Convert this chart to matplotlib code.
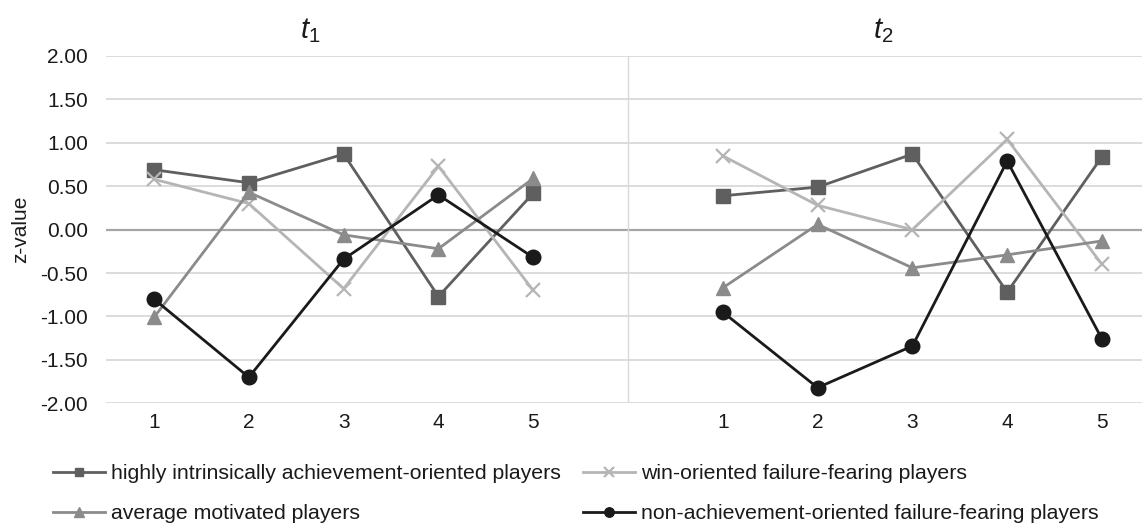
import matplotlib
matplotlib.use("Agg")
import matplotlib.pyplot as plt
import numpy as np

plt.rcParams['font.family'] = ['Liberation Sans', 'DejaVu Sans']
plt.rcParams['mathtext.fontset'] = 'custom'
plt.rcParams['mathtext.it'] = 'Liberation Sans:italic'
plt.rcParams['mathtext.rm'] = 'Liberation Sans'

# Data
periods = ["t_1", "t_2"]
categories = ["1", "2", "3", "4", "5"]
series_names = [
    "highly intrinsically achievement-oriented players",
    "win-oriented failure-fearing players",
    "average motivated players",
    "non-achievement-oriented failure-fearing players",
]
high_t1 = [0.69, 0.54, 0.87, -0.77, 0.42]
high_t2 = [0.39, 0.49, 0.87, -0.72, 0.84]
win_t1 = [0.58, 0.30, -0.68, 0.73, -0.70]
win_t2 = [0.85, 0.28, 0.00, 1.04, -0.40]
avg_t1 = [-1.01, 0.43, -0.06, -0.22, 0.59]
avg_t2 = [-0.67, 0.06, -0.44, -0.29, -0.13]
non_t1 = [-0.80, -1.70, -0.34, 0.40, -0.32]
non_t2 = [-0.95, -1.82, -1.34, 0.79, -1.26]
yticks = [-2.0, -1.5, -1.0, -0.5, 0.0, 0.5, 1.0, 1.5, 2.0]

W, H = 1144, 527
FS = 15
fig = plt.figure(figsize=(W / 100, H / 100), dpi=100)
ax = fig.add_axes([106 / W, 1 - 403.3 / H, (1142 - 106) / W, (403.3 - 56) / H])

x1 = np.arange(5)
x2 = np.arange(5) + 6

styles = [
    dict(color="#5f5f5f", marker="s", ms=9.5),
    dict(color="#b5b5b5", marker="x", ms=10, mew=1.6),
    dict(color="#8b8b8b", marker="^", ms=10.5),
    dict(color="#1a1a1a", marker="o", ms=10.5),
]
data = [(high_t1, high_t2), (win_t1, win_t2), (avg_t1, avg_t2), (non_t1, non_t2)]

# grid
for yv in yticks:
    if yv == 0:
        ax.axhline(yv, color="#a6a6a6", lw=1.6, zorder=1)
    else:
        ax.axhline(yv, color="#d9d9d9", lw=1.3, zorder=1)
ax.plot([5, 5], [-2, 2], color="#d9d9d9", lw=1.0, zorder=1)

handles = []
for (a, b), st, name in zip(data, styles, series_names):
    h, = ax.plot(x1, a, lw=2.0, label=name, zorder=3, **st)
    ax.plot(x2, b, lw=2.0, zorder=3, **st)
    handles.append(h)

ax.set_xlim(-0.507, (1142 - 154) / 94.8)
ax.set_ylim(-2, 2)
ax.set_yticks(yticks)
ax.set_yticklabels([f"{v:.2f}" for v in yticks])
ax.set_xticks(list(x1) + list(x2))
ax.set_xticklabels(categories + categories)
for s in ax.spines.values():
    s.set_visible(False)
ax.tick_params(axis="both", length=0, labelsize=FS, colors="#1a1a1a")
ax.tick_params(axis="y", pad=13)
ax.tick_params(axis="x", pad=7)
ax.set_ylabel("z-value", fontsize=FS, color="#1a1a1a", labelpad=7)

from matplotlib.transforms import blended_transform_factory
tr = blended_transform_factory(ax.transData, fig.transFigure)
ax.text(1.65, 1 - 38 / H, r"$\mathit{t}_{\mathrm{1}}$", transform=tr,
        ha="center", va="baseline", fontsize=21, color="#1a1a1a")
ax.text(7.69, 1 - 38 / H, r"$\mathit{t}_{\mathrm{2}}$", transform=tr,
        ha="center", va="baseline", fontsize=21, color="#1a1a1a")

# legend order: row1: high, win ; row2: avg, non
order = [0, 2, 1, 3]
leg = fig.legend([handles[i] for i in order], [series_names[i] for i in order],
                 ncol=2, loc="upper left", bbox_to_anchor=(53 / W, 1 - 464 / H),
                 frameon=False, fontsize=15.3, handlelength=2.45, handletextpad=0.27,
                 columnspacing=1.05, labelspacing=1.0, markerscale=0.65,
                 borderpad=0, borderaxespad=0)
for t in leg.get_texts():
    t.set_color("#1a1a1a")

fig.savefig("out.png", dpi=100)
